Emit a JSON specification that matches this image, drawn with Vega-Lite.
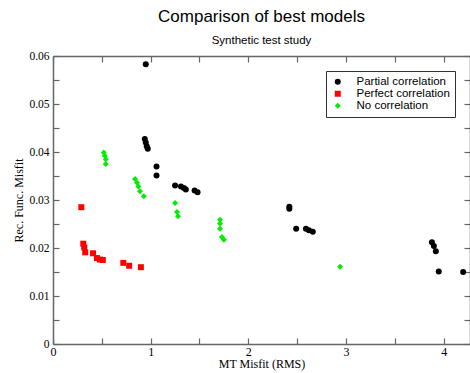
{
  "$schema": "https://vega.github.io/schema/vega-lite/v6.json",
  "width": 417,
  "height": 288,
  "autosize": {"type": "none"},
  "padding": {"left": 53, "top": 56, "right": 0, "bottom": 29},
  "background": "white",
  "title": {
    "text": "Comparison of best models",
    "subtitle": "Synthetic test study",
    "font": "Liberation Sans",
    "fontSize": 17,
    "fontWeight": "normal",
    "color": "black",
    "subtitleFont": "Liberation Sans",
    "subtitleFontSize": 11.5,
    "subtitleColor": "black",
    "subtitlePadding": 9,
    "anchor": "middle",
    "offset": 3
  },
  "config": {
    "view": {"stroke": null},
    "axis": {
      "grid": false,
      "domainColor": "#666666",
      "domainWidth": 1.5,
      "tickColor": "#666666",
      "tickWidth": 1.2,
      "tickSize": -6,
      "labelFont": "Liberation Serif",
      "labelColor": "black",
      "titleFont": "Liberation Serif",
      "titleColor": "black",
      "titleFontWeight": "normal"
    }
  },
  "data": {
    "values": [
      {"mt": 0.95, "rf": 0.0583, "model": "Partial correlation"},
      {"mt": 0.94, "rf": 0.0427, "model": "Partial correlation"},
      {"mt": 0.95, "rf": 0.042, "model": "Partial correlation"},
      {"mt": 0.96, "rf": 0.0412, "model": "Partial correlation"},
      {"mt": 0.97, "rf": 0.0407, "model": "Partial correlation"},
      {"mt": 1.06, "rf": 0.037, "model": "Partial correlation"},
      {"mt": 1.06, "rf": 0.0351, "model": "Partial correlation"},
      {"mt": 1.25, "rf": 0.033, "model": "Partial correlation"},
      {"mt": 1.31, "rf": 0.0328, "model": "Partial correlation"},
      {"mt": 1.34, "rf": 0.0325, "model": "Partial correlation"},
      {"mt": 1.36, "rf": 0.0322, "model": "Partial correlation"},
      {"mt": 1.45, "rf": 0.032, "model": "Partial correlation"},
      {"mt": 1.48, "rf": 0.0316, "model": "Partial correlation"},
      {"mt": 2.42, "rf": 0.0286, "model": "Partial correlation"},
      {"mt": 2.42, "rf": 0.0282, "model": "Partial correlation"},
      {"mt": 2.49, "rf": 0.024, "model": "Partial correlation"},
      {"mt": 2.59, "rf": 0.024, "model": "Partial correlation"},
      {"mt": 2.62, "rf": 0.0237, "model": "Partial correlation"},
      {"mt": 2.66, "rf": 0.0234, "model": "Partial correlation"},
      {"mt": 3.88, "rf": 0.0212, "model": "Partial correlation"},
      {"mt": 3.9, "rf": 0.0204, "model": "Partial correlation"},
      {"mt": 3.92, "rf": 0.0193, "model": "Partial correlation"},
      {"mt": 3.95, "rf": 0.0151, "model": "Partial correlation"},
      {"mt": 4.2, "rf": 0.015, "model": "Partial correlation"},
      {"mt": 0.29, "rf": 0.0285, "model": "Perfect correlation"},
      {"mt": 0.31, "rf": 0.0209, "model": "Perfect correlation"},
      {"mt": 0.32, "rf": 0.0201, "model": "Perfect correlation"},
      {"mt": 0.33, "rf": 0.0191, "model": "Perfect correlation"},
      {"mt": 0.41, "rf": 0.0189, "model": "Perfect correlation"},
      {"mt": 0.45, "rf": 0.0179, "model": "Perfect correlation"},
      {"mt": 0.48, "rf": 0.0176, "model": "Perfect correlation"},
      {"mt": 0.51, "rf": 0.0175, "model": "Perfect correlation"},
      {"mt": 0.72, "rf": 0.0169, "model": "Perfect correlation"},
      {"mt": 0.78, "rf": 0.0163, "model": "Perfect correlation"},
      {"mt": 0.9, "rf": 0.016, "model": "Perfect correlation"},
      {"mt": 0.52, "rf": 0.0399, "model": "No correlation"},
      {"mt": 0.53, "rf": 0.0392, "model": "No correlation"},
      {"mt": 0.54, "rf": 0.0385, "model": "No correlation"},
      {"mt": 0.54, "rf": 0.0375, "model": "No correlation"},
      {"mt": 0.84, "rf": 0.0344, "model": "No correlation"},
      {"mt": 0.86, "rf": 0.0336, "model": "No correlation"},
      {"mt": 0.875, "rf": 0.0328, "model": "No correlation"},
      {"mt": 0.89, "rf": 0.0318, "model": "No correlation"},
      {"mt": 0.93, "rf": 0.0308, "model": "No correlation"},
      {"mt": 1.25, "rf": 0.0294, "model": "No correlation"},
      {"mt": 1.27, "rf": 0.0275, "model": "No correlation"},
      {"mt": 1.28, "rf": 0.0266, "model": "No correlation"},
      {"mt": 1.71, "rf": 0.0259, "model": "No correlation"},
      {"mt": 1.71, "rf": 0.0251, "model": "No correlation"},
      {"mt": 1.71, "rf": 0.024, "model": "No correlation"},
      {"mt": 1.73, "rf": 0.0223, "model": "No correlation"},
      {"mt": 1.75, "rf": 0.0217, "model": "No correlation"},
      {"mt": 2.94, "rf": 0.0161, "model": "No correlation"}
    ]
  },
  "layer": [
    {
      "mark": {"type": "point", "filled": true, "opacity": 1, "size": 36},
      "encoding": {
        "x": {
          "field": "mt", "type": "quantitative",
          "scale": {"domain": [0, 4.27], "nice": false, "zero": false},
          "axis": {
            "orient": "bottom",
            "title": "MT Misfit (RMS)",
            "titleFontSize": 12,
            "titlePadding": 1,
            "labelFontSize": 12,
            "labelPadding": 8,
            "format": "~g",
            "values": [0, 0.5, 1, 1.5, 2, 2.5, 3, 3.5, 4],
            "labelExpr": "datum.value % 1 === 0 ? datum.label : ''",
            "labelFlush": false,
            "encode": {"ticks": {"y2": {"condition": {"test": "datum.value % 1 === 0", "value": -7}, "value": -4}}}
          }
        },
        "y": {
          "field": "rf", "type": "quantitative",
          "scale": {"domain": [0, 0.06], "nice": false},
          "axis": {
            "orient": "left",
            "title": "Rec. Func. Misfit",
            "titleFontSize": 12,
            "titlePadding": 3,
            "labelFontSize": 11.5,
            "labelPadding": 10,
            "format": "~g",
            "values": [0, 0.005, 0.01, 0.015, 0.02, 0.025, 0.03, 0.035, 0.04, 0.045, 0.05, 0.055, 0.06],
            "labelExpr": "round(datum.value * 200) % 2 === 0 ? datum.label : ''",
            "labelFlush": false,
            "encode": {"ticks": {"x2": {"condition": {"test": "round(datum.value * 200) % 2 === 0", "value": 7}, "value": 4}}}
          }
        },
        "color": {
          "field": "model", "type": "nominal",
          "scale": {"domain": ["Partial correlation", "Perfect correlation", "No correlation"], "range": ["#000000", "#ff0000", "#00ee00"]},
          "legend": {
            "title": null,
            "orient": "none",
            "legendX": 273,
            "legendY": 15,
            "padding": 5,
            "strokeColor": "#333333",
            "fillColor": "white",
            "labelFont": "Liberation Sans",
            "labelFontSize": 11.5,
            "labelColor": "black",
            "labelOffset": 13,
            "symbolSize": 36,
            "symbolOffset": 1,
            "rowPadding": -1.5
          }
        },
        "shape": {
          "field": "model", "type": "nominal",
          "scale": {"domain": ["Partial correlation", "Perfect correlation", "No correlation"], "range": ["circle", "square", "diamond"]},
          "legend": null
        }
      }
    },
    {
      "mark": {"type": "point", "opacity": 0},
      "encoding": {
        "x": {
          "field": "mt", "type": "quantitative",
          "scale": {"domain": [0, 4.27], "nice": false, "zero": false},
          "axis": {
            "orient": "top", "title": null, "labels": false,
            "values": [0, 0.5, 1, 1.5, 2, 2.5, 3, 3.5, 4],
            "encode": {"ticks": {"y2": {"condition": {"test": "datum.value % 1 === 0", "value": 7}, "value": 4}}}
          }
        },
        "y": {
          "field": "rf", "type": "quantitative",
          "scale": {"domain": [0, 0.06], "nice": false},
          "axis": {
            "orient": "right", "title": null, "labels": false,
            "values": [0, 0.005, 0.01, 0.015, 0.02, 0.025, 0.03, 0.035, 0.04, 0.045, 0.05, 0.055, 0.06],
            "encode": {"ticks": {"x2": {"condition": {"test": "round(datum.value * 200) % 2 === 0", "value": -7}, "value": -4}}}
          }
        }
      }
    }
  ],
  "resolve": {"axis": {"x": "independent", "y": "independent"}}
}
